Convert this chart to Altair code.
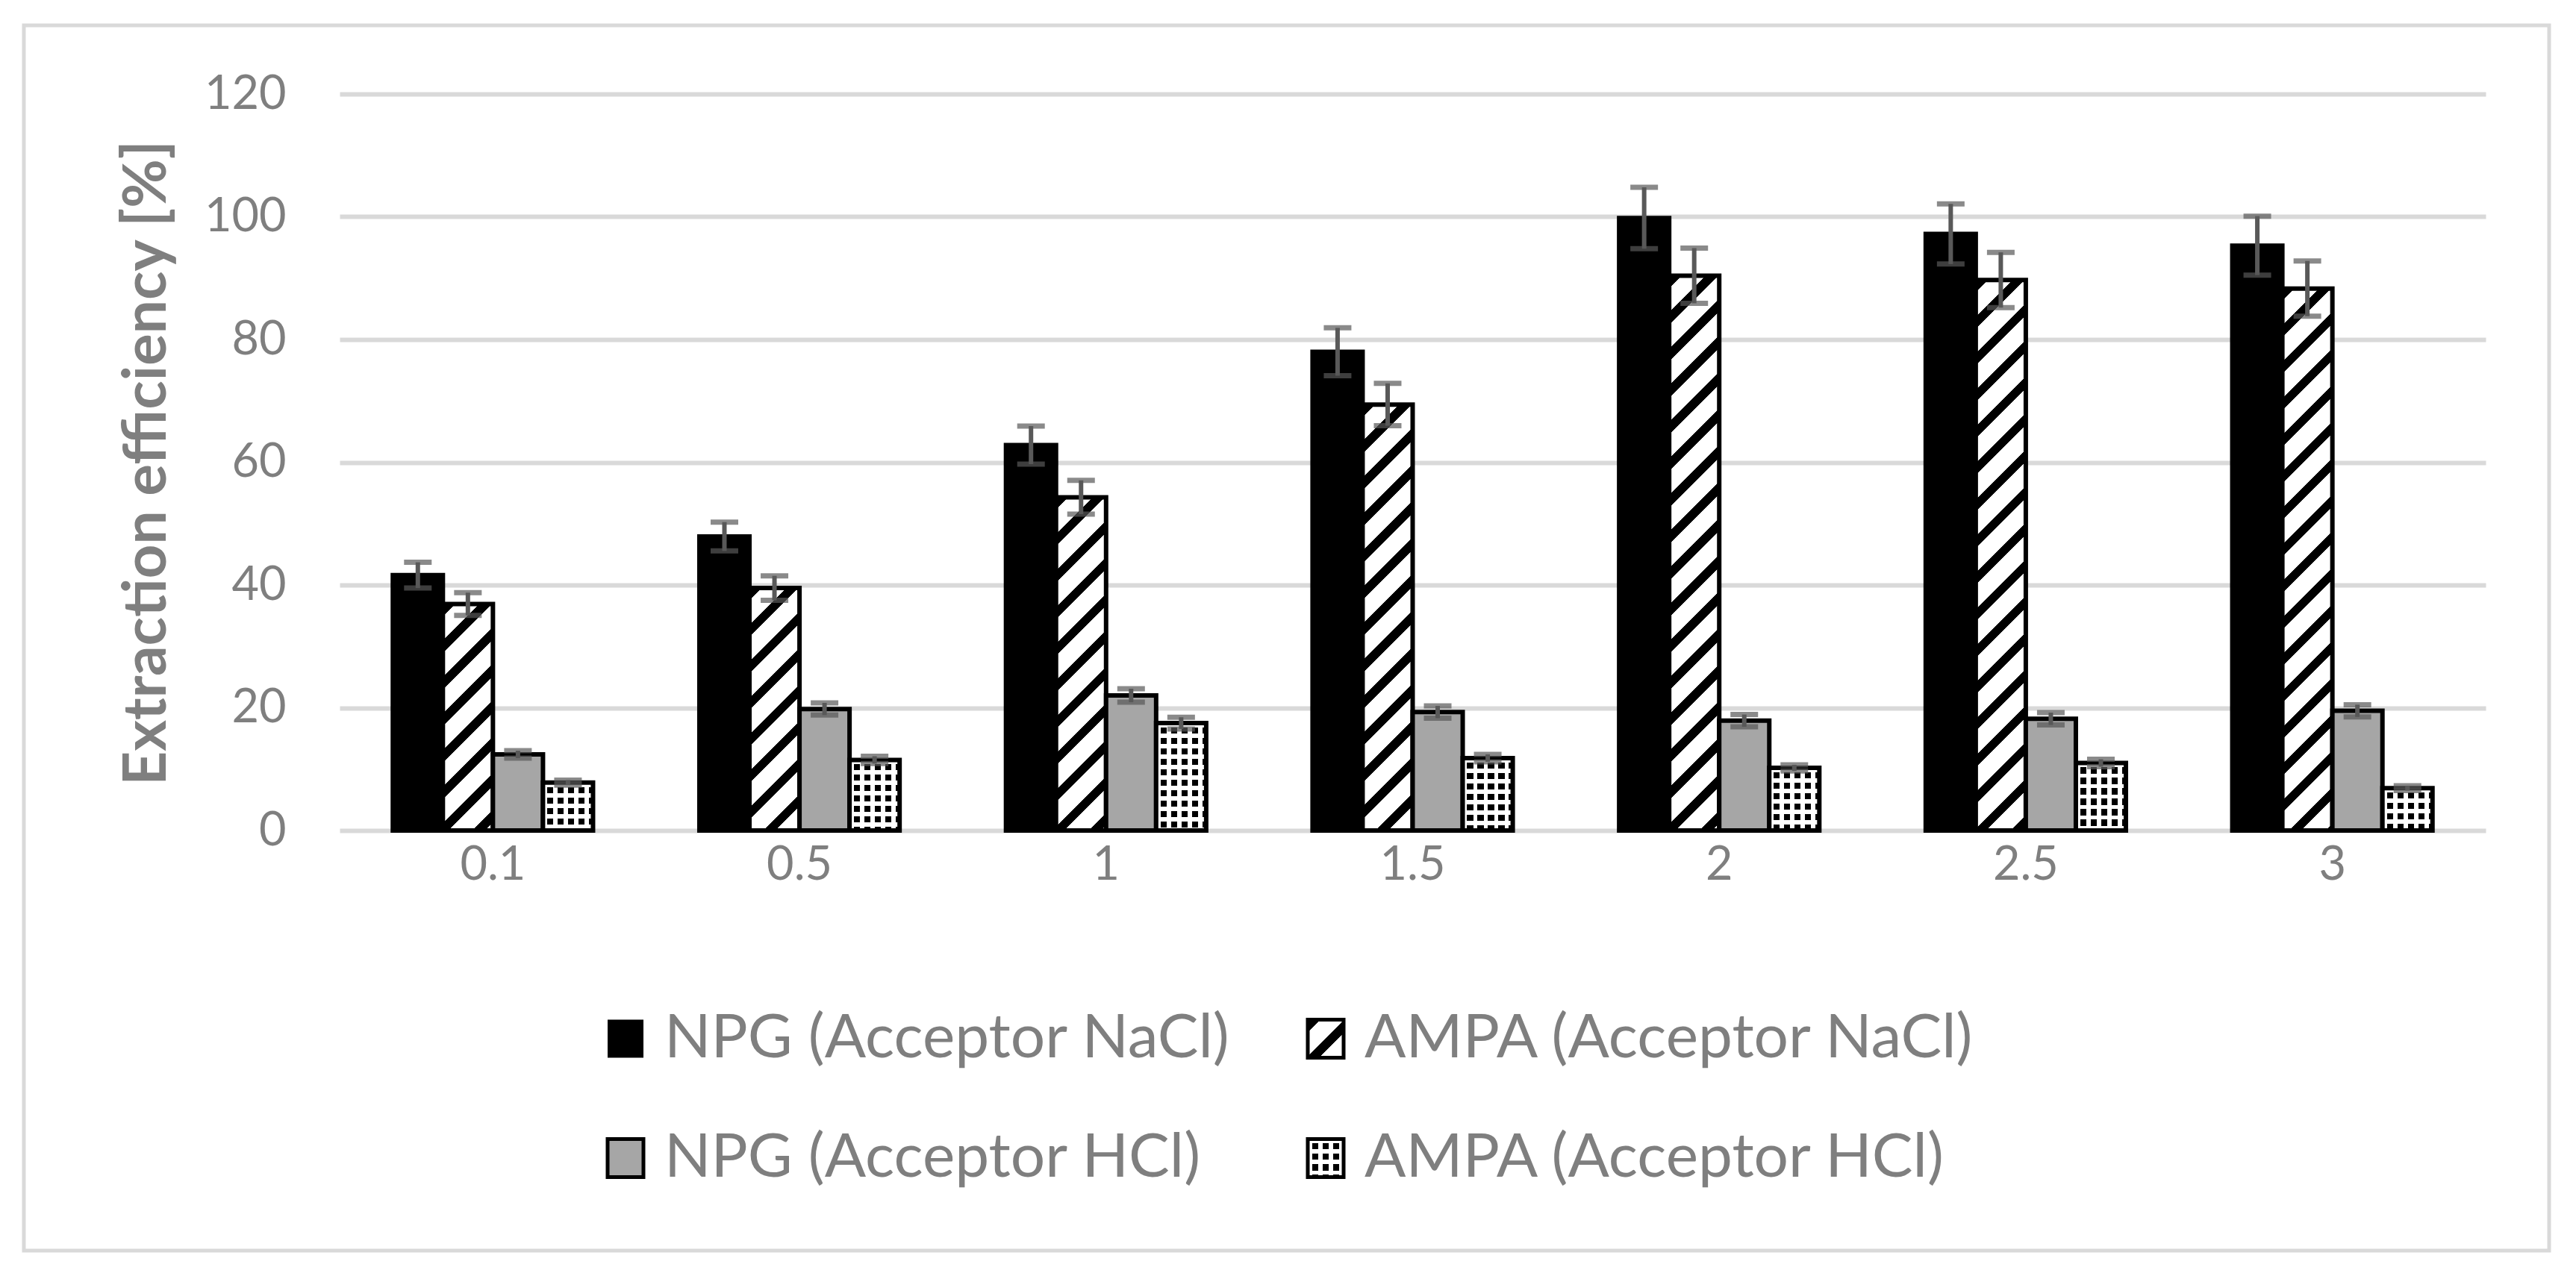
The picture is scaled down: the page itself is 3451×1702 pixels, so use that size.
import altair as alt
import pandas as pd

# ---------------- data ----------------
conc = ["0.1", "0.5", "1", "1.5", "2", "2.5", "3"]
series = ["NPG (Acceptor NaCl)", "AMPA (Acceptor NaCl)", "NPG (Acceptor HCl)", "AMPA (Acceptor HCl)"]

npg_nacl = [41.6, 47.9, 62.8, 78.0, 99.8, 97.2, 95.3]
npg_nacl_err = [2.1, 2.35, 3.1, 3.9, 5.0, 4.9, 4.8]
ampa_nacl = [36.9, 39.5, 54.3, 69.4, 90.4, 89.7, 88.3]
ampa_nacl_err = [1.85, 2.0, 2.75, 3.45, 4.5, 4.5, 4.5]
npg_hcl = [12.4, 19.8, 22.0, 19.3, 17.9, 18.2, 19.5]
npg_hcl_err = [0.6, 1.0, 1.1, 1.0, 1.0, 1.0, 1.0]
ampa_hcl = [7.8, 11.5, 17.5, 11.8, 10.2, 11.0, 6.9]
ampa_hcl_err = [0.4, 0.6, 0.95, 0.6, 0.5, 0.6, 0.4]

y_ticks = [0, 20, 40, 60, 80, 100, 120]
y_title = "Extraction efficiency [%]"

vals = [npg_nacl, ampa_nacl, npg_hcl, ampa_hcl]
errs = [npg_nacl_err, ampa_nacl_err, npg_hcl_err, ampa_hcl_err]
rows = []
for s, vs, es in zip(series, vals, errs):
    for c, v, e in zip(conc, vs, es):
        rows.append({"conc": c, "series": s, "value": v, "lo": v - e, "hi": v + e})
df = pd.DataFrame(rows)

# ---------------- layout / style ----------------
FONT = "Lato"
TXT = "#7f7f7f"
GRID = "#d9d9d9"
ERR = "#595959"
GRAY = "#a6a6a6"
PLOT_W, PLOT_H = 2875, 987
PAD_L, PAD_T = 447, 118
YMAX = 120
P_IN = 0.347
STEP = PLOT_W / len(conc)
BAR_W = STEP * (1 - P_IN) / len(series)
PX = PLOT_H / YMAX
HATCH_P = 49.0      # vertical period of diagonal hatch (px)
CHECK_P = 14.0      # period of checker (px)
CLEAR = "rgba(255,255,255,0)"


def stripe_stops(period, frac, on, off):
    out = []
    t = 0.0
    while t < 1:
        for o, col in ((t, on), (t + frac * period, on), (t + frac * period, off), (t + period, off)):
            out.append(alt.GradientStop(offset=min(max(o, 0.0), 1.0), color=col))
        t += period
    return out


def hatch_grad(w, h):
    k = (w + h) / (w ** 2 + h ** 2)
    return alt.LinearGradient(gradient="linear",
                              stops=stripe_stops(HATCH_P / (w + h), 0.34, "black", "white"),
                              x1=0, y1=0, x2=k * w, y2=k * h)


def vstripe_grad(w):
    return alt.LinearGradient(gradient="linear",
                              stops=stripe_stops(CHECK_P / w, 0.42, "white", CLEAR),
                              x1=0, y1=0, x2=1, y2=0)


def hstripe_grad(h):
    return alt.LinearGradient(gradient="linear",
                              stops=stripe_stops(CHECK_P / h, 0.42, "white", CLEAR),
                              x1=0, y1=0, x2=0, y2=1)


x_enc = alt.X("conc:N", sort=conc,
              scale=alt.Scale(domain=conc, paddingInner=P_IN, paddingOuter=P_IN / 2),
              axis=alt.Axis(title=None, domain=False, ticks=False, grid=False, labelAngle=0,
                            labelFont=FONT, labelFontSize=63, labelColor=TXT,
                            labelPadding=46, labelBaseline="middle"))
xo_enc = alt.XOffset("series:N", sort=series,
                     scale=alt.Scale(domain=series, paddingInner=0, paddingOuter=0))
y_axis = alt.Axis(values=y_ticks, title=y_title, domain=False, ticks=False, grid=True,
                  gridColor=GRID, gridWidth=6, labelFont=FONT, labelFontSize=63,
                  labelColor=TXT, labelPadding=72,
                  titleFont=FONT, titleFontSize=80, titleFontWeight="bold", titleColor=TXT,
                  titleAngle=270, titleAlign="center", titleBaseline="alphabetic",
                  titleX=221 - 455, titleY=620 - 126)
y_scale = alt.Scale(domain=[0, YMAX], nice=False, zero=True)


def Y(field):
    return alt.Y(f"{field}:Q", scale=y_scale, axis=y_axis)


base = alt.Chart(df)
enc = dict(x=x_enc, xOffset=xo_enc, y=Y("value"))
layers = []

# NPG NaCl: solid black
layers.append(base.transform_filter(alt.datum.series == series[0])
              .mark_bar(fill="black", stroke="black", strokeWidth=6).encode(**enc))
# AMPA NaCl: diagonal hatch
for c, v in zip(conc, ampa_nacl):
    layers.append(base.transform_filter((alt.datum.series == series[1]) & (alt.datum.conc == c))
                  .mark_bar(fill=hatch_grad(BAR_W, v * PX), stroke="black", strokeWidth=6)
                  .encode(**enc))
# NPG HCl: gray
layers.append(base.transform_filter(alt.datum.series == series[2])
              .mark_bar(fill=GRAY, stroke="black", strokeWidth=6).encode(**enc))
# AMPA HCl: checker (black base + white stripes both ways)
layers.append(base.transform_filter(alt.datum.series == series[3])
              .mark_bar(fill="black", strokeWidth=0).encode(**enc))
layers.append(base.transform_filter(alt.datum.series == series[3])
              .mark_bar(fill=vstripe_grad(BAR_W), strokeWidth=0).encode(**enc))
for c, v in zip(conc, ampa_hcl):
    layers.append(base.transform_filter((alt.datum.series == series[3]) & (alt.datum.conc == c))
                  .mark_bar(fill=hstripe_grad(v * PX), strokeWidth=0).encode(**enc))
layers.append(base.transform_filter(alt.datum.series == series[3])
              .mark_bar(fillOpacity=0, stroke="black", strokeWidth=6).encode(**enc))

# error bars
layers.append(base.mark_rule(color=ERR, strokeWidth=6)
              .encode(x=x_enc, xOffset=xo_enc, y=Y("lo"), y2=alt.Y2("hi:Q")))
for f in ("lo", "hi"):
    layers.append(base.mark_tick(color=ERR, size=37, thickness=7, orient="horizontal")
                  .encode(x=x_enc, xOffset=xo_enc, y=Y(f)))

# outer chart-area border
one = alt.Chart(pd.DataFrame({"k": [0]}))
layers.append(one.mark_rect(fillOpacity=0, stroke=GRID, strokeWidth=5).encode(
    x=alt.value(32 - 455), x2=alt.value(3415 - 455),
    y=alt.value(34 - 126), y2=alt.value(1676 - 126)))

# manual legend (2 x 2)
sym_x = [814 - 455, 1752 - 455]
txt_x = [890 - 455, 1828 - 455]
row_y = [1392 - 126, 1552 - 126]
SW, SH = 48, 51
for i, s in enumerate(series):
    col, row = i % 2, i // 2
    x0, y0 = sym_x[col], row_y[row] - SH / 2
    pos = dict(x=alt.value(x0), x2=alt.value(x0 + SW), y=alt.value(y0), y2=alt.value(y0 + SH))
    if i == 0:
        layers.append(one.mark_rect(fill="black").encode(**pos))
    elif i == 1:
        layers.append(one.mark_rect(fill=hatch_grad(SW, SH), stroke="black", strokeWidth=5).encode(**pos))
    elif i == 2:
        layers.append(one.mark_rect(fill=GRAY, stroke="black", strokeWidth=5).encode(**pos))
    else:
        layers.append(one.mark_rect(fill="black").encode(**pos))
        layers.append(one.mark_rect(fill=vstripe_grad(SW)).encode(**pos))
        layers.append(one.mark_rect(fill=hstripe_grad(SH)).encode(**pos))
        layers.append(one.mark_rect(fillOpacity=0, stroke="black", strokeWidth=5).encode(**pos))
    layers.append(one.mark_text(text=s, font=FONT, fontSize=82, color=TXT, align="left",
                                baseline="middle")
                  .encode(x=alt.value(txt_x[col]), y=alt.value(row_y[row])))

chart = alt.layer(*layers).properties(
    width=PLOT_W, height=PLOT_H,
    autosize=alt.AutoSizeParams(type="none"),
    padding={"left": PAD_L, "top": PAD_T, "right": 110, "bottom": 580},
    background="white",
).configure_view(stroke=None)

chart.save("out.html", embed_options={"renderer": "svg", "actions": False})
